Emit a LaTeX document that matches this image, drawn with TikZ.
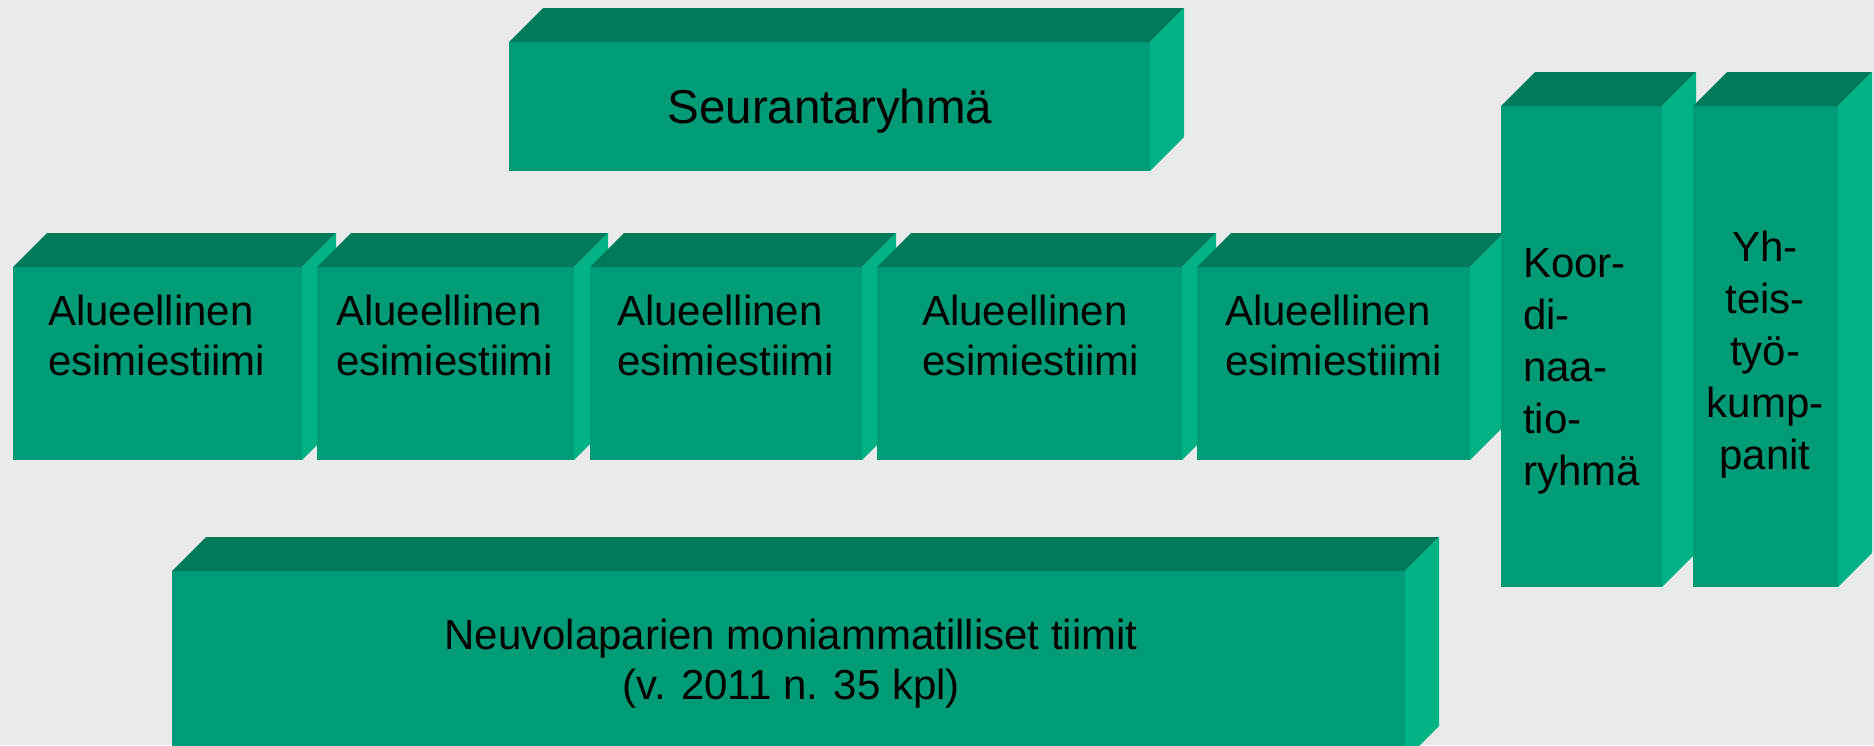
\documentclass[tikz,border=0pt]{standalone}
\usepackage{fontspec}
\setmainfont{Liberation Sans}
\definecolor{frontc}{HTML}{009B77}
\definecolor{topc}{HTML}{007A5B}
\definecolor{sidec}{HTML}{00B386}
\definecolor{bgc}{HTML}{EAEAEA}
\begin{document}
\begin{tikzpicture}[x=1pt, y=-1pt,
  front/.style={fill=frontc, inner sep=0pt, outer sep=0pt, anchor=north west},
  topface/.style={fill=topc},
  sideface/.style={fill=sidec},
  lbl/.style={inner sep=0pt, font=\fontsize{42}{50}\selectfont},
  tall/.style={font=\fontsize{42}{52}\selectfont}]
\fill[bgc] (0,0) rectangle (1874,745);
\useasboundingbox (0,0) rectangle (1874,745);
\clip (0,0) rectangle (1874,745);
% boxes, drawn left to right so each one covers the side of the previous
\foreach \n/\xa/\ya/\xb/\yb in {seur/509/42/1150/171,
    alue1/13/267/302/460, alue2/317/267/574/460, alue3/590/267/862/460,
    alue4/877/267/1182/460, alue5/1197/267/1470/460,
    koord/1501/106/1662/587, yhteis/1693/106/1838/587,
    neuvola/172/571/1405/760}{
  \node[front, minimum width=\xb-\xa, minimum height=\yb-\ya] (\n) at (\xa,\ya) {};
  \fill[topface] (\n.north west) -- ++(34,-34) -- ([shift={(34,-34)}]\n.north east) -- (\n.north east) -- cycle;
  \fill[sideface] (\n.north east) -- ++(34,-34) -- ([shift={(34,-34)}]\n.south east) -- (\n.south east) -- cycle;
}
% texts (base of a multi-line node = last line)
\node[lbl, font=\fontsize{47.5}{56}\selectfont, anchor=base] (seurtxt) at (830,123) {Seurantaryhmä};
\node[lbl, align=left, anchor=base west] (alue1txt) at (48,375) {Alueellinen\\esimiestiimi};
\node[lbl, align=left, anchor=base west] (alue2txt) at (336,375) {Alueellinen\\esimiestiimi};
\node[lbl, align=left, anchor=base west] (alue3txt) at (617,375) {Alueellinen\\esimiestiimi};
\node[lbl, align=left, anchor=base west] (alue4txt) at (922,375) {Alueellinen\\esimiestiimi};
\node[lbl, align=left, anchor=base west] (alue5txt) at (1225,375) {Alueellinen\\esimiestiimi};
\node[lbl, tall, align=left, anchor=base west] (koordtxt) at (1523,485) {Koor-\\di-\\naa-\\tio-\\ryhmä};
\node[lbl, tall, align=center, anchor=base] (yhteistxt) at (1765,469) {Yh-\\teis-\\työ-\\kump-\\panit};
\node[lbl, align=center, anchor=base] (neuvolatxt) at (791,699) {Neuvolaparien moniammatilliset tiimit\\(v. 2011 n. 35 kpl)};
\end{tikzpicture}
\end{document}
